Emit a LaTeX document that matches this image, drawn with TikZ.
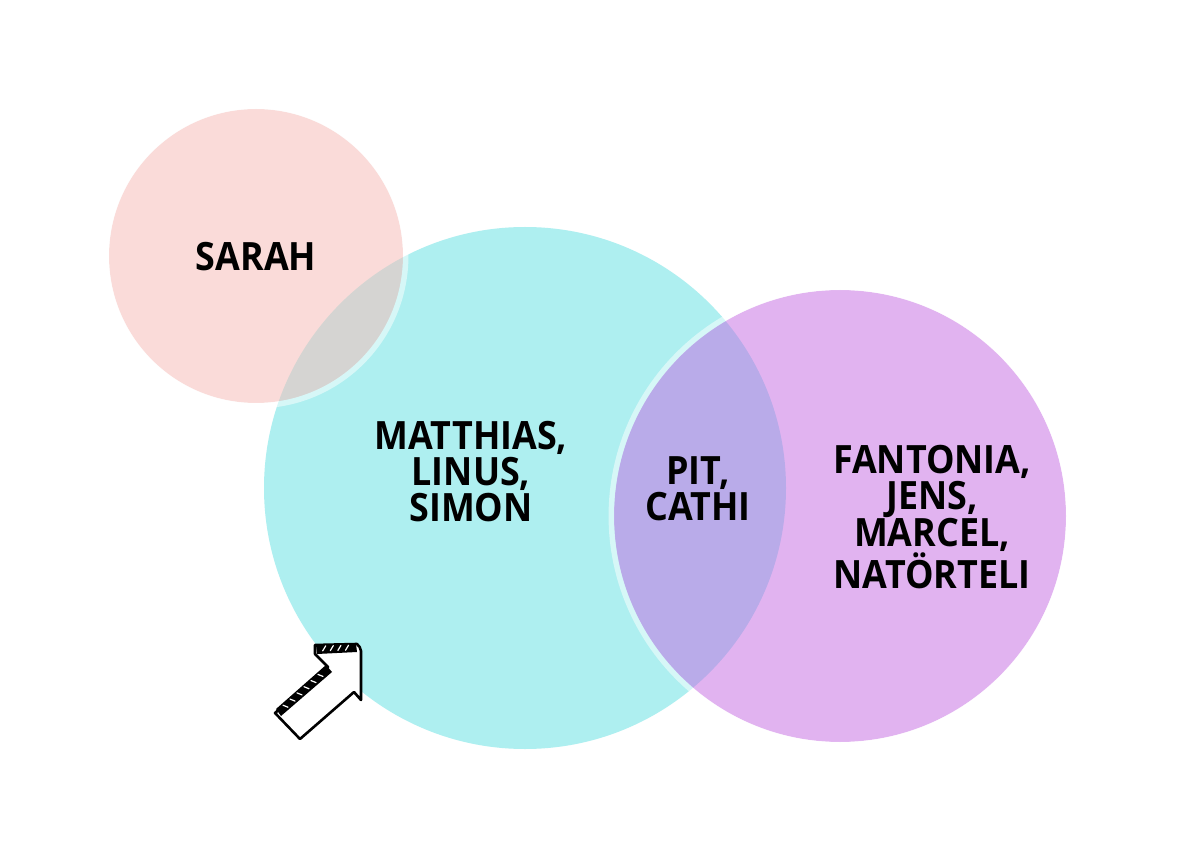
\documentclass[tikz,border=0pt]{standalone}
\usepackage{fontspec}
\usetikzlibrary{calc}
\setmainfont{Open Sans}[FakeStretch=0.92]
\definecolor{cyanfill}{RGB}{174,239,240}
\definecolor{pinkbase}{RGB}{246,191,186}
\definecolor{purplebase}{RGB}{197,105,227}
\tikzset{
  lbl/.style={font=\bfseries\fontsize{39}{36}\selectfont, align=center, text=black, inner sep=0pt},
  halo/.style={draw=white, draw opacity=0.5, line width=5.5pt},
  sketch/.style={draw=black, line width=2.6pt, line cap=round, line join=round},
}
\begin{document}
\begin{tikzpicture}[x=1pt,y=-1pt]
\useasboundingbox (0,0) rectangle (1181,866);
\fill[white] (0,0) rectangle (1181,866);
% cyan circle
\fill[cyanfill] (525,488) circle[radius=261];
% pink circle
\fill[pinkbase, fill opacity=0.55] (256,256) circle[radius=147];
\draw[halo] (256,256) circle[radius=149.7];
% purple circle
\fill[purplebase, fill opacity=0.5] (840,516) circle[radius=226];
\draw[halo] (840,516) circle[radius=228.7];
% labels
\node[lbl] (sarah) at (256,257) {SARAH};
\node[lbl] (blue) at (471,472) {MATTHIAS,\\LINUS,\\SIMON};
\node[lbl] (mid) at (698,489) {PIT,\\CATHI};
\node[lbl] (purple) at (932,517) {FANTONIA,\\JENS,\\MARCEL,\\NATÖRTELI};
% sketch arrow
\coordinate (a1) at (315,645);
\coordinate (a2) at (357,644);
\coordinate (a3) at (361,651);
\coordinate (a4) at (361,700);
\coordinate (a5) at (354,692);
\coordinate (a6) at (300,739);
\coordinate (a7) at (275,713);
\coordinate (a8) at (328,667);
\coordinate (a9) at (315,654);
\draw[sketch, fill=white] (a1) -- (a2) to[bend left=20] (a3) -- (a4) -- (a5) -- (a6) -- (a7) -- (a8) -- (a9) -- cycle;
% hatched bands
\fill[black] (276,709) -- (326,665) -- (332,672) -- (281,716) -- cycle;
\fill[black] (316,645) -- (356,644) -- (357,652) -- (317,654) -- cycle;
\foreach \t in {0.12,0.26,0.4,0.54,0.68,0.82}{
  \draw[white, line width=1.2pt, line cap=round] ($(279,713)!\t!(329,669)$) ++(-2,-2.5) -- ++(5,2);
}
\foreach \t in {0.15,0.35,0.55,0.75}{
  \draw[white, line width=1.2pt, line cap=round] ($(318,649)!\t!(356,648)$) ++(-1,2) -- ++(3,-5);
}
\end{tikzpicture}
\end{document}
